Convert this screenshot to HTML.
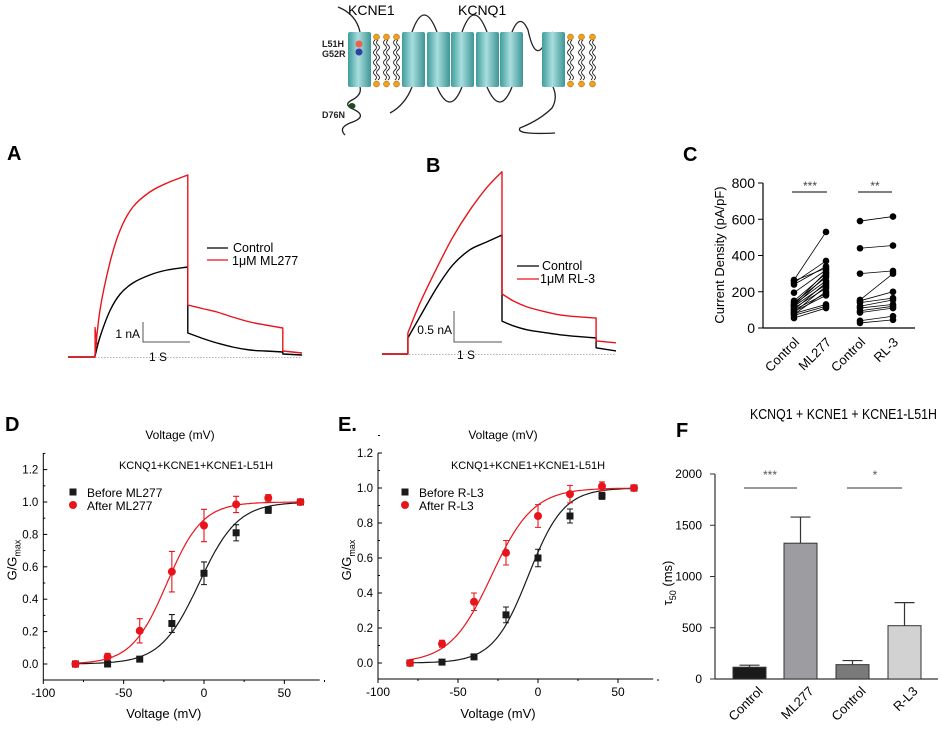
<!DOCTYPE html>
<html><head><meta charset="utf-8"><style>
body{margin:0;background:#fff}
svg{display:block;font-family:"Liberation Sans",Arial,sans-serif}
</style></head><body>
<svg id="fig" width="941" height="729" viewBox="0 0 941 729" xmlns="http://www.w3.org/2000/svg">
<defs>
<linearGradient id="cyl" x1="0" x2="1" y1="0" y2="0">
<stop offset="0" stop-color="#3f9c9c"/><stop offset="0.45" stop-color="#a9dede"/><stop offset="1" stop-color="#3e9595"/>
</linearGradient>
</defs>
<g id="diagram">
<text x="348" y="15" font-size="14">KCNE1</text>
<text x="458" y="15" font-size="14">KCNQ1</text>
<text x="322" y="47" font-size="9" font-weight="bold" fill="#222">L51H</text>
<text x="322" y="57" font-size="9" font-weight="bold" fill="#222">G52R</text>
<text x="322" y="118" font-size="9" font-weight="bold" fill="#222">D76N</text>
<g fill="none" stroke="#222" stroke-width="1.3">
<path d="M338 7 Q356 14 360 32"/>
<path d="M360 87 Q362 95 352 100 Q342 105 355 110 Q368 117 350 123 Q338 128 345 135"/>
<path d="M390 113 Q405 105 412 87"/>
<path d="M412 32 Q424 -2 437 32"/>
<path d="M437 87 Q450 117 462 87"/>
<path d="M462 32 Q474 -2 487 32"/>
<path d="M487 87 Q500 117 512 87"/>
<path d="M512 32 Q520 12 528 30 Q534 58 542 48 Q548 38 553 32"/>
<path d="M553 87 Q558 98 552 108 Q540 120 520 128 Q515 135 555 133"/>
</g>
<g id="cyls"></g>
<g id="lipids"></g>
<circle cx="359" cy="44" r="3.5" fill="#f0604a"/>
<circle cx="359" cy="52" r="3.5" fill="#3040a0"/>
<ellipse cx="352" cy="106" rx="3.5" ry="3" fill="#1e4a20"/>
</g>
<g id="panelA"></g>
<g id="panelB"></g>
<g id="panelC"></g>
<g id="panelD"></g>
<g id="panelE"></g>
<g id="panelF"></g>
</svg>
<script>
// ---------- data ----------
const aTime = [0.57,0.68,0.89,1.11,1.38,1.74,2.11,2.55];
const aRedRise = [0,2.35,4.7,6.35,7.5,8.25,8.7,9.1];
const aBlackRise = [0,1.0,2.3,3.15,3.7,4.1,4.35,4.5];
const aTailTime = [2.55,2.9,3.17,3.5,3.87,4.2,4.57];
const aRedTail = [2.6,2.4,2.25,2.0,1.75,1.6,1.45];
const aBlackTail = [1.2,0.9,0.7,0.5,0.35,0.3,0.25];
const bTime = [0.54,0.79,1.15,1.48,1.83,2.19,2.5];
const bRedRise = [0.34,0.82,1.4,1.89,2.32,2.69,2.94];
const bBlackRise = [0.26,0.6,1.08,1.44,1.68,1.81,1.92];
const bTailTime = [2.5,2.75,3.02,3.35,3.71,4.1,4.46];
const bRedTail = [0.97,0.85,0.76,0.69,0.63,0.6,0.58];
const bBlackTail = [0.53,0.45,0.39,0.35,0.31,0.28,0.26];
const cCats = ["Control","ML277","Control","RL-3"];
const cMLControl = [55,70,80,90,100,110,120,130,140,150,195,240,250,260,265,100,85,120,75,130];
const cMLDrug = [110,120,130,180,190,220,240,260,280,300,320,340,370,330,530,250,230,290,200,310];
const cRLControl = [590,440,300,155,150,140,120,110,95,85,40,28];
const cRLDrug = [615,455,315,300,200,165,155,130,120,110,65,45];
const cTicks = [0,200,400,600,800];
const volts = [-80,-60,-40,-20,0,20,40,60];
const dBefore = [0,0,0.03,0.25,0.56,0.81,0.95,1.0];
const dBeforeErr = [0,0,0,0.055,0.07,0.05,0.02,0];
const dAfter = [0,0.045,0.205,0.57,0.855,0.985,1.025,1.0];
const dAfterErr = [0,0.02,0.075,0.125,0.1,0.05,0.02,0];
const dFitHalf = [-3,-23];
const dFitSlope = [12,11];
const eBefore = [0,0.005,0.035,0.275,0.6,0.84,0.955,1.0];
const eBeforeErr = [0,0,0,0.045,0.05,0.04,0.02,0];
const eAfter = [0,0.11,0.35,0.63,0.84,0.965,1.01,1.0];
const eAfterErr = [0,0.02,0.05,0.07,0.065,0.05,0.025,0];
const eFitHalf = [-6,-29];
const eFitSlope = [11,13];
const gTicks = [0,0.2,0.4,0.6,0.8,1.0,1.2];
const vTicks = [-100,-50,0,50];
const fCats = ["Control","ML277","Control","R-L3"];
const fValues = [115,1325,140,520];
const fErrors = [20,255,40,225];
const fTicks = [0,500,1000,1500,2000];

const NS="http://www.w3.org/2000/svg";
function mk(parent,tag,attrs,text){const e=document.createElementNS(NS,tag);for(const k in attrs)e.setAttribute(k,attrs[k]);if(text!==undefined)e.textContent=text;parent.appendChild(e);return e;}

// ---------- diagram ----------
const cyls=document.getElementById('cyls');
[[348,371],[402,425],[427,450],[451,474],[476,499],[500,523],[542,565]].forEach(function(c,i){
  const r=mk(cyls,'rect',{x:c[0],y:32,width:c[1]-c[0],height:55,fill:'url(#cyl)',rx:2});
  
  
});
const lip=document.getElementById('lipids');
[375,385,395,569,580,591].forEach(function(x){
  let d='M'+x+' 40';for(let y=40;y<80;y+=5){d+=' q'+(y%10?3:-3)+' 2.5 0 5';}
  mk(lip,'path',{d:d,fill:'none',stroke:'#222','stroke-width':0.9});
  mk(lip,'path',{d:d.replace('M'+x,'M'+(x+3)),fill:'none',stroke:'#222','stroke-width':0.9});
  mk(lip,'circle',{cx:x+1.5,cy:37,r:3,fill:'#f3a11c',stroke:'#8a5a00','stroke-width':0.5});
  mk(lip,'circle',{cx:x+1.5,cy:84,r:3,fill:'#f3a11c',stroke:'#8a5a00','stroke-width':0.5});
});

// ---------- traces ----------
function smooth(pts){
  let d='M'+pts[0][0].toFixed(1)+' '+pts[0][1].toFixed(1);
  for(let i=0;i<pts.length-1;i++){
    const p0=pts[Math.max(0,i-1)],p1=pts[i],p2=pts[i+1],p3=pts[Math.min(pts.length-1,i+2)];
    const c1=[p1[0]+(p2[0]-p0[0])/6,p1[1]+(p2[1]-p0[1])/6];
    const c2=[p2[0]-(p3[0]-p1[0])/6,p2[1]-(p3[1]-p1[1])/6];
    d+=' C'+c1[0].toFixed(1)+' '+c1[1].toFixed(1)+' '+c2[0].toFixed(1)+' '+c2[1].toFixed(1)+' '+p2[0].toFixed(1)+' '+p2[1].toFixed(1);
  }
  return d;
}
function fullTrace(g,x0,y0,pxS,pxA,rt,rv,tt,tv,tEnd,after,col,name){
  const X=t=>x0+t*pxS,Y=v=>y0-v*pxA;
  const rise=rt.map((t,i)=>[X(t),Y(rv[i])]);
  const tail=tt.map((t,i)=>[X(t),Y(tv[i])]);
  let d='M'+X(0)+' '+y0+' L'+X(rt[0])+' '+y0+' L'+rise[0][0].toFixed(1)+' '+rise[0][1].toFixed(1);
  d+=smooth(rise).replace(/^M[^C]*/,' ');
  d+=' L'+tail[0][0].toFixed(1)+' '+tail[0][1].toFixed(1);
  d+=smooth(tail).replace(/^M[^C]*/,' ');
  const last=tt[tt.length-1];
  d+=' L'+X(last)+' '+Y(after[0])+' L'+X(tEnd)+' '+Y(after[1]);
  const p=mk(g,'path',{d:d,fill:'none',stroke:col,'stroke-width':1.4,'stroke-linejoin':'round'});
  
  
}
(function(){
  const g=document.getElementById('panelA');
  const x0=68,y0=357,pxS=47,pxA=20;
  mk(g,'text',{x:7,y:160,'font-size':20,'font-weight':'bold'},'A');
  mk(g,'line',{x1:68,x2:302,y1:357.5,y2:357.5,stroke:'#999','stroke-dasharray':'1.5 1.5','stroke-width':0.8});
  fullTrace(g,x0,y0,pxS,pxA,aTime,aBlackRise,aTailTime,aBlackTail,4.98,[0.15,0.1],'#000','control-trace-a');
  fullTrace(g,x0,y0,pxS,pxA,aTime,aRedRise,aTailTime,aRedTail,4.98,[0.3,0.2],'#e8141b','ml277-trace-a');
  mk(g,'polyline',{points:'95,357 95,327 97,345',fill:'none',stroke:'#e8141b','stroke-width':1.2});
  mk(g,'polyline',{points:'143,322 143,342 190,342',fill:'none',stroke:'#555','stroke-width':1});
  mk(g,'text',{x:140,y:338,'font-size':12,'text-anchor':'end'},'1 nA');
  mk(g,'text',{x:158,y:361,'font-size':12,'text-anchor':'middle'},'1 S');
  mk(g,'line',{x1:207,x2:228,y1:248,y2:248,stroke:'#000','stroke-width':1.3});
  mk(g,'line',{x1:207,x2:228,y1:260,y2:260,stroke:'#e8141b','stroke-width':1.3});
  mk(g,'text',{x:233,y:252,'font-size':12.5},'Control');
  mk(g,'text',{x:232,y:265,'font-size':12.5},'1\u03bcM ML277');
})();
(function(){
  const g=document.getElementById('panelB');
  const x0=382,y0=354,pxS=48,pxA=62;
  mk(g,'text',{x:426,y:172,'font-size':20,'font-weight':'bold'},'B');
  mk(g,'line',{x1:382,x2:616,y1:354.5,y2:354.5,stroke:'#999','stroke-dasharray':'1.5 1.5','stroke-width':0.8});
  fullTrace(g,x0,y0,pxS,pxA,bTime,bBlackRise,bTailTime,bBlackTail,4.875,[0.1,0.05],'#000','control-trace-b');
  fullTrace(g,x0,y0,pxS,pxA,bTime,bRedRise,bTailTime,bRedTail,4.875,[0.21,0.18],'#e8141b','rl3-trace-b');
  mk(g,'polyline',{points:'454,311 454,342 502,342',fill:'none',stroke:'#555','stroke-width':1});
  mk(g,'text',{x:452,y:334,'font-size':12,'text-anchor':'end'},'0.5 nA');
  mk(g,'text',{x:466,y:359,'font-size':12,'text-anchor':'middle'},'1 S');
  mk(g,'line',{x1:517,x2:539,y1:266,y2:266,stroke:'#000','stroke-width':1.3});
  mk(g,'line',{x1:517,x2:539,y1:279,y2:279,stroke:'#e8141b','stroke-width':1.3});
  mk(g,'text',{x:542,y:270,'font-size':12.5},'Control');
  mk(g,'text',{x:540,y:283,'font-size':12.5},'1\u03bcM RL-3');
})();

// ---------- panel C ----------
(function(){
  const g=document.getElementById('panelC');
  const yC=v=>328-v*0.18125;
  const xC=[794,826,860,893];
  mk(g,'text',{x:683,y:161,'font-size':20,'font-weight':'bold'},'C');
  mk(g,'line',{x1:763,x2:763,y1:183,y2:328,stroke:'#000','stroke-width':1.2});
  mk(g,'line',{x1:763,x2:915,y1:328,y2:328,stroke:'#000','stroke-width':1.2});
  cTicks.forEach(t=>{
    mk(g,'line',{x1:758,x2:763,y1:yC(t),y2:yC(t),stroke:'#000'});
    const tl=mk(g,'text',{x:755,y:yC(t)+5,'font-size':14,'text-anchor':'end'},String(t));
    
    
  });
  const yl=mk(g,'text',{x:0,y:0,'font-size':13,'text-anchor':'middle',transform:'translate(724,255) rotate(-90)'},'Current Density (pA/pF)');
  
  
  cCats.forEach((c,i)=>{
    const t=mk(g,'text',{x:0,y:0,'font-size':13,'text-anchor':'end',transform:'translate('+(xC[i]+6)+',343) rotate(-45)'},c);
    
    
  });
  function pairs(ctrl,drug,xa,xb,nm){
    ctrl.forEach((v,i)=>{
      const l=mk(g,'line',{x1:xa,x2:xb,y1:yC(v),y2:yC(drug[i]),stroke:'#000','stroke-width':0.8});
      
      
      const a=mk(g,'circle',{cx:xa,cy:yC(v),r:3.3,fill:'#000'});
      
      
      const b=mk(g,'circle',{cx:xb,cy:yC(drug[i]),r:3.3,fill:'#000'});
      
      
    });
  }
  pairs(cMLControl,cMLDrug,xC[0],xC[1],'ml277');
  pairs(cRLControl,cRLDrug,xC[2],xC[3],'rl3');
  mk(g,'line',{x1:792,x2:827,y1:192,y2:192,stroke:'#000'});
  mk(g,'line',{x1:858,x2:892,y1:192,y2:192,stroke:'#000'});
  mk(g,'text',{x:810,y:190,'font-size':12,'text-anchor':'middle',fill:'#444'},'***');
  mk(g,'text',{x:875,y:190,'font-size':12,'text-anchor':'middle',fill:'#444'},'**');
})();

// ---------- panels D / E ----------
function gv(g,opt){
  const X=opt.X,Y=opt.Y;
  mk(g,'text',{x:opt.lx,y:opt.ly,'font-size':20,'font-weight':'bold'},opt.letter);
  mk(g,'text',{x:opt.tx,y:439,'font-size':12,'text-anchor':'middle'},'Voltage (mV)');
  mk(g,'text',{x:opt.sx,y:469,'font-size':11,'text-anchor':'middle'},'KCNQ1+KCNE1+KCNE1-L51H');
  mk(g,'line',{x1:X(-100),x2:X(-100),y1:453,y2:opt.ax,stroke:'#000'});
  mk(g,'line',{x1:X(-100),x2:X(72),y1:opt.ax,y2:opt.ax,stroke:'#000'});
  gTicks.forEach(t=>{
    mk(g,'line',{x1:X(-100),x2:X(-100)+4,y1:Y(t),y2:Y(t),stroke:'#000'});
    mk(g,'line',{x1:X(-100),x2:X(-100)+2,y1:Y(t+0.1),y2:Y(t+0.1),stroke:'#000'});
    const tl=mk(g,'text',{x:X(-100)-5,y:Y(t)+4,'font-size':11.5,'text-anchor':'end'},t.toFixed(1));
    
    
  });
  vTicks.forEach(t=>{
    mk(g,'line',{x1:X(t),x2:X(t),y1:opt.ax,y2:opt.ax+4,stroke:'#000'});
    mk(g,'line',{x1:X(t+25),x2:X(t+25),y1:opt.ax,y2:opt.ax+2,stroke:'#000'});
    const tl=mk(g,'text',{x:X(t),y:opt.ax+17,'font-size':12,'text-anchor':'middle'},String(t));
    
    
  });
  mk(g,'text',{x:X(-25),y:718,'font-size':13,'text-anchor':'middle'},'Voltage (mV)');
  const yl=mk(g,'text',{x:0,y:0,'font-size':13,'text-anchor':'middle',transform:'translate('+(X(-100)-27)+',560) rotate(-90)'});
  mk(yl,'tspan',{},'G/G');mk(yl,'tspan',{'font-size':9,dy:4},'max');
  const series=[[opt.before,opt.beforeErr,'#1a1a1a',0,'before'],[opt.after,opt.afterErr,'#e8141b',1,'after']];
  series.forEach(s=>{
    let d='';
    for(let v=-80;v<=60;v+=1){const gg=1/(1+Math.exp((opt.half[s[3]]-v)/opt.slope[s[3]]));d+=(d?'L':'M')+X(v).toFixed(1)+' '+Y(gg).toFixed(1);}
    const p=mk(g,'path',{d:d,fill:'none',stroke:s[2],'stroke-width':1.2});
    
    
  });
  series.forEach(s=>{
    volts.forEach((v,i)=>{
      const e=s[1][i];
      if(e>0){
        mk(g,'path',{d:'M'+X(v)+' '+Y(s[0][i]-e)+'V'+Y(s[0][i]+e)+'M'+(X(v)-3)+' '+Y(s[0][i]-e)+'h6M'+(X(v)-3)+' '+Y(s[0][i]+e)+'h6',stroke:s[2],'stroke-width':1.1,fill:'none'});
      }
      let m;
      if(s[3]===0) m=mk(g,'rect',{x:X(v)-3.5,y:Y(s[0][i])-3.5,width:7,height:7,fill:s[2]});
      else m=mk(g,'circle',{cx:X(v),cy:Y(s[0][i]),r:4,fill:s[2]});
      
      
    });
  });
  mk(g,'rect',{x:opt.mx-3.5,y:488.5,width:7,height:7,fill:'#1a1a1a'});
  mk(g,'circle',{cx:opt.mx,cy:505,r:4,fill:'#e8141b'});
  mk(g,'text',{x:opt.mx+14,y:497,'font-size':12},opt.lb);
  mk(g,'text',{x:opt.mx+14,y:510,'font-size':12},opt.la);
}
gv(document.getElementById('panelD'),{letter:'D',lx:5,ly:431,tx:180,sx:196,X:v=>204+v*1.607,Y:g=>664-g*162,ax:680,
  before:dBefore,beforeErr:dBeforeErr,after:dAfter,afterErr:dAfterErr,half:dFitHalf,slope:dFitSlope,mx:73,lb:'Before ML277',la:'After ML277'});
gv(document.getElementById('panelE'),{letter:'E.',lx:338,ly:431,tx:503,sx:528,X:v=>538+v*1.6,Y:g=>663-g*175,ax:679,
  before:eBefore,beforeErr:eBeforeErr,after:eAfter,afterErr:eAfterErr,half:eFitHalf,slope:eFitSlope,mx:405,lb:'Before R-L3',la:'After R-L3'});

// ---------- panel F ----------
(function(){
  const g=document.getElementById('panelF');
  const yF=v=>679-v*0.1025;
  const xL=[733,784,836,888],bw=33;
  const cols=['#1a1a1a','#9c9ca1','#7a7a7a','#d2d2d2'];
  mk(g,'text',{x:676,y:437,'font-size':20,'font-weight':'bold'},'F');
  mk(g,'text',{x:750,y:419,'font-size':15,textLength:187,lengthAdjust:'spacingAndGlyphs'},'KCNQ1 + KCNE1 + KCNE1-L51H');
  mk(g,'line',{x1:715,x2:715,y1:474,y2:679,stroke:'#333','stroke-width':1.2});
  mk(g,'line',{x1:715,x2:938,y1:679,y2:679,stroke:'#333','stroke-width':1.2});
  fTicks.forEach(t=>{
    mk(g,'line',{x1:710,x2:715,y1:yF(t),y2:yF(t),stroke:'#333'});
    const tl=mk(g,'text',{x:702,y:yF(t)+4,'font-size':12,'text-anchor':'end'},String(t));
    
    
  });
  const yl=mk(g,'text',{x:0,y:0,'font-size':13,'text-anchor':'middle',transform:'translate(672,583) rotate(-90)'});
  mk(yl,'tspan',{},'\u03c4');mk(yl,'tspan',{'font-size':9,dy:4},'50');mk(yl,'tspan',{dy:-4},' (ms)');
  fValues.forEach((v,i)=>{
    const cx=xL[i]+bw/2;
    mk(g,'path',{d:'M'+cx+' '+yF(v)+'V'+yF(v+fErrors[i])+'M'+(cx-10)+' '+yF(v+fErrors[i])+'h20',stroke:'#333','stroke-width':1.2,fill:'none'});
    const b=mk(g,'rect',{x:xL[i],y:yF(v),width:bw,height:679-yF(v),fill:cols[i],stroke:'#333','stroke-width':1});
    
    
    const t=mk(g,'text',{x:0,y:0,'font-size':13,'text-anchor':'end',transform:'translate('+(cx+14)+',692) rotate(-45)'},fCats[i]);
    
    
  });
  mk(g,'line',{x1:744,x2:797,y1:488,y2:488,stroke:'#333'});
  mk(g,'line',{x1:847,x2:902,y1:488,y2:488,stroke:'#333'});
  mk(g,'text',{x:770,y:479,'font-size':12,'text-anchor':'middle',fill:'#555'},'***');
  mk(g,'text',{x:875,y:479,'font-size':12,'text-anchor':'middle',fill:'#555'},'*');
})();
</script>
</body></html>
